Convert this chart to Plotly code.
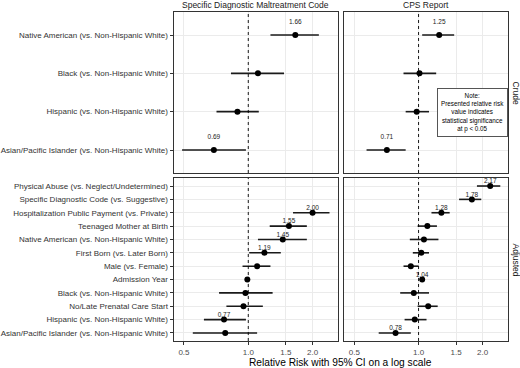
import plotly.graph_objects as go

# ---------------- data ----------------
crude_labels = [
    "Native American (vs. Non-Hispanic White)",
    "Black (vs. Non-Hispanic White)",
    "Hispanic (vs. Non-Hispanic White)",
    "Asian/Pacific Islander (vs. Non-Hispanic White)",
]
crude_sdmc_rr = [1.66, 1.11, 0.89, 0.69]
crude_sdmc_lo = [1.27, 0.83, 0.71, 0.49]
crude_sdmc_hi = [2.14, 1.47, 1.12, 0.975]
crude_sdmc_sig = [True, False, False, True]

crude_cps_rr = [1.25, 1.01, 0.98, 0.71]
crude_cps_lo = [1.04, 0.85, 0.87, 0.57]
crude_cps_hi = [1.47, 1.21, 1.12, 0.87]
crude_cps_sig = [True, False, False, True]

adj_labels = [
    "Physical Abuse (vs. Neglect/Undetermined)",
    "Specific Diagnostic Code (vs. Suggestive)",
    "Hospitalization Public Payment (vs. Private)",
    "Teenaged Mother at Birth",
    "Native American (vs. Non-Hispanic White)",
    "First Born (vs. Later Born)",
    "Male (vs. Female)",
    "Admission Year",
    "Black (vs. Non-Hispanic White)",
    "No/Late Prenatal Care Start",
    "Hispanic (vs. Non-Hispanic White)",
    "Asian/Pacific Islander (vs. Non-Hispanic White)",
]
adj_sdmc_rr = [None, None, 2.00, 1.55, 1.45, 1.19, 1.10, 0.99, 0.97, 0.95, 0.77, 0.78]
adj_sdmc_lo = [None, None, 1.62, 1.26, 1.11, 1.01, 0.94, 0.98, 0.73, 0.79, 0.62, 0.55]
adj_sdmc_hi = [None, None, 2.40, 1.88, 1.88, 1.42, 1.27, 1.00, 1.30, 1.17, 0.975, 1.10]
adj_sdmc_sig = [False, False, True, True, True, True, False, False, False, False, True, False]

adj_cps_rr = [2.17, 1.78, 1.28, 1.10, 1.06, 1.03, 0.92, 1.04, 0.95, 1.11, 0.96, 0.78]
adj_cps_lo = [1.88, 1.55, 1.15, 0.99, 0.91, 0.94, 0.85, 1.03, 0.82, 0.99, 0.86, 0.65]
adj_cps_hi = [2.42, 1.97, 1.40, 1.22, 1.24, 1.12, 1.00, 1.05, 1.12, 1.23, 1.09, 0.92]
adj_cps_sig = [True, True, True, False, False, False, False, True, False, False, False, True]

x_ticks = [0.5, 1.0, 1.5, 2.0]
x_tick_text = ["0.5", "1.0", "1.5", "2.0"]
col_titles = ["Specific Diagnostic Maltreatment Code", "CPS Report"]
row_titles = ["Crude", "Adjusted"]
note_text = "Note:<br>Presented relative risk<br>value indicates<br>statistical significance<br>at p < 0.05"
x_title = "Relative Risk with 95% CI on a log scale"
label_nudge = 0.32

# ---------------- layout geometry ----------------
W, H = 520, 368
FONT = "Liberation Sans, Arial, sans-serif"
col_dom = [[173.5 / W, 338 / W], [344 / W, 508 / W]]
row_dom = [[(H - 173) / H, (H - 12) / H], [(H - 341) / H, (H - 178) / H]]
BORDER = "#333333"
GRID = "#ebebeb"

fig = go.Figure()

panels = [
    # (row, col, labels, rr, lo, hi, sig)
    (0, 0, crude_labels, crude_sdmc_rr, crude_sdmc_lo, crude_sdmc_hi, crude_sdmc_sig),
    (0, 1, crude_labels, crude_cps_rr, crude_cps_lo, crude_cps_hi, crude_cps_sig),
    (1, 0, adj_labels, adj_sdmc_rr, adj_sdmc_lo, adj_sdmc_hi, adj_sdmc_sig),
    (1, 1, adj_labels, adj_cps_rr, adj_cps_lo, adj_cps_hi, adj_cps_sig),
]

for i, (r, c, labels, rr, lo, hi, sig) in enumerate(panels):
    idx = i + 1
    xa = "x" if idx == 1 else f"x{idx}"
    ya = "y" if idx == 1 else f"y{idx}"
    n = len(labels)
    ypos = [n - k for k in range(n)]
    plus = [(h - v) if v is not None else None for v, h in zip(rr, hi)]
    minus = [(v - l) if v is not None else None for v, l in zip(rr, lo)]
    fig.add_trace(go.Scatter(
        x=rr, y=ypos, mode="markers", xaxis=xa, yaxis=ya,
        marker=dict(color="black", size=6),
        error_x=dict(type="data", symmetric=False, array=plus, arrayminus=minus,
                     color="#1a1a1a", thickness=1.6, width=0),
        showlegend=False, hoverinfo="skip",
    ))
    lx = [v for v, s in zip(rr, sig) if s and v is not None]
    ly = [p + label_nudge for v, s, p in zip(rr, sig, ypos) if s and v is not None]
    lt = [f"{v:.2f}" for v, s in zip(rr, sig) if s and v is not None]
    fig.add_trace(go.Scatter(
        x=lx, y=ly, mode="text", text=lt, xaxis=xa, yaxis=ya,
        textfont=dict(family=FONT, size=6.5, color="#1a1a1a"),
        showlegend=False, hoverinfo="skip",
    ))
    xkey = "xaxis" if idx == 1 else f"xaxis{idx}"
    ykey = "yaxis" if idx == 1 else f"yaxis{idx}"
    fig.update_layout(**{
        xkey: dict(
            type="log", range=[-0.35, 0.42], domain=col_dom[c], anchor=ya,
            tickvals=x_ticks, ticktext=x_tick_text,
            showticklabels=(r == 1), ticks="outside" if r == 1 else "",
            ticklen=3, tickcolor=BORDER, tickwidth=1,
            tickfont=dict(family=FONT, size=8, color="#4d4d4d"),
            showgrid=True, gridcolor=GRID, gridwidth=1,
            showline=True, mirror=True, linecolor=BORDER, linewidth=1,
            zeroline=False, automargin=False,
        ),
        ykey: dict(
            range=[0.4, n + 0.6], domain=row_dom[r], anchor=xa,
            tickvals=ypos, ticktext=labels,
            showticklabels=(c == 0), ticks="outside" if c == 0 else "",
            ticklen=3, tickcolor=BORDER, tickwidth=1,
            tickfont=dict(family=FONT, size=8, color="#333333"),
            showgrid=True, gridcolor=GRID, gridwidth=1,
            showline=True, mirror=True, linecolor=BORDER, linewidth=1,
            zeroline=False, automargin=False,
        ),
    })
    fig.add_shape(type="line", xref=xa, yref=f"{ya} domain", x0=1, x1=1, y0=0, y1=1,
                  line=dict(color="black", width=0.9, dash="dot"), layer="above")

annotations = []
for c, t in enumerate(col_titles):
    annotations.append(dict(
        text=t, xref="paper", yref="paper",
        x=(col_dom[c][0] + col_dom[c][1]) / 2, y=(H - 5) / H,
        xanchor="center", yanchor="middle", showarrow=False,
        font=dict(family=FONT, size=8.5, color="#1a1a1a"),
    ))
for r, t in enumerate(row_titles):
    annotations.append(dict(
        text=t, xref="paper", yref="paper", textangle=90,
        x=516 / W, y=(row_dom[r][0] + row_dom[r][1]) / 2,
        xanchor="center", yanchor="middle", showarrow=False,
        font=dict(family=FONT, size=8.5, color="#1a1a1a"),
    ))
annotations.append(dict(
    text=x_title, xref="paper", yref="paper",
    x=(col_dom[0][0] + col_dom[1][1]) / 2, y=(H - 362) / H,
    xanchor="center", yanchor="middle", showarrow=False,
    font=dict(family=FONT, size=10.2, color="black"),
))
annotations.append(dict(
    text=note_text, xref="paper", yref="paper",
    x=472 / W, y=(H - 112) / H, xanchor="center", yanchor="middle",
    showarrow=False, align="center",
    font=dict(family=FONT, size=6.3, color="black"),
    bgcolor="white", bordercolor="#555555", borderwidth=1, borderpad=3,
))

fig.update_layout(
    width=W, height=H, template="none",
    margin=dict(l=0, r=0, t=0, b=0),
    paper_bgcolor="white", plot_bgcolor="white",
    annotations=annotations, showlegend=False,
)

fig.write_html(
    "out.html",
    config={"displayModeBar": False},
    post_script="document.body.style.margin='0';document.body.style.padding='0';",
)
